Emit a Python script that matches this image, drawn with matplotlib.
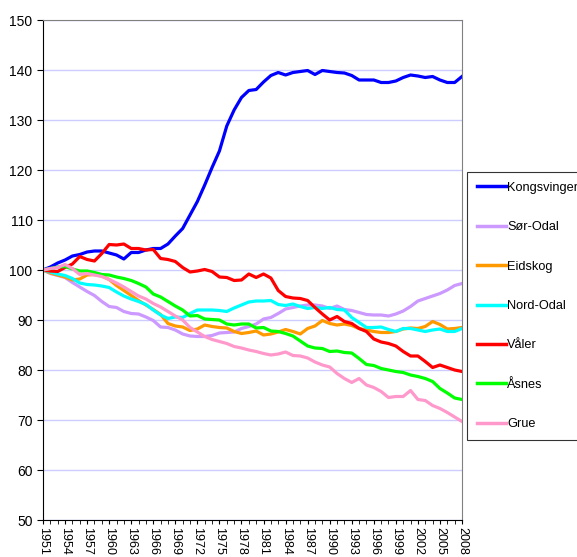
import matplotlib
matplotlib.use("Agg")
import matplotlib.pyplot as plt

years = list(range(1951, 2009))

kongsvinger = [100, 100.6, 101.4, 102, 102.8, 103.1, 103.6, 103.8, 103.8, 103.4,
               103, 102.2, 103.5, 103.5, 104, 104.3, 104.3, 105.2, 106.8, 108.3,
               111, 113.7, 117, 120.5, 123.8, 128.8, 132, 134.5, 135.9, 136.1,
               137.6, 138.9, 139.5, 139, 139.5, 139.7, 139.9, 139.1, 139.9, 139.7,
               139.5, 139.4, 138.9, 138, 138, 138, 137.5, 137.5, 137.8, 138.5,
               139, 138.8, 138.5, 138.7, 138, 137.5, 137.5, 138.7]
sor_odal = [100, 99.3, 98.9, 98.5, 97.5, 96.6, 95.7, 94.9, 93.7, 92.7,
            92.5, 91.7, 91.3, 91.2, 90.6, 89.9, 88.6, 88.5, 88, 87.2,
            86.8, 86.7, 86.7, 86.9, 87.4, 87.5, 87.6, 88.3, 88.7, 89.2,
            90.2, 90.5, 91.3, 92.2, 92.5, 92.8, 93, 93, 92.8, 92.3,
            92.8, 92.1, 91.9, 91.5, 91.1, 91, 91, 90.8, 91.2, 91.8,
            92.7, 93.8, 94.3, 94.8, 95.3, 96, 96.9, 97.3]
eidskog = [100, 99.4, 99, 98.6, 98, 98.2, 99, 99.1, 98.8, 98.1,
           96.9, 95.9, 94.9, 93.9, 93, 92.1, 91.1, 89.3, 88.8, 88.6,
           87.9, 88.2, 89, 88.7, 88.5, 88.4, 87.7, 87.3, 87.5, 87.8,
           87, 87.2, 87.6, 88.1, 87.7, 87.2, 88.3, 88.8, 89.9, 89.3,
           89, 89.2, 88.9, 88.3, 88, 87.7, 87.5, 87.5, 87.7, 88.2,
           88.4, 88.3, 88.7, 89.7, 89.1, 88.2, 88.3, 88.5]
nord_odal = [100, 99.6, 99.2, 98.9, 98.3, 97.4, 97.1, 97, 96.8, 96.5,
             95.6, 94.8, 94.2, 93.7, 93.1, 92, 91, 90.3, 90.6, 90.5,
             91.3, 92, 92, 92, 91.9, 91.7, 92.4, 93, 93.6, 93.8,
             93.8, 93.9, 93.1, 92.9, 93.2, 92.7, 92.3, 92.5, 92.3, 92.5,
             92.1, 92, 90.5, 89.5, 88.5, 88.5, 88.6, 88.1, 87.7, 88.3,
             88.3, 88, 87.7, 88, 88.2, 87.7, 87.7, 88.3]
valer = [100, 99.8, 99.7, 100.5, 101.2, 102.7, 102.1, 101.8, 103.3, 105.1,
         105, 105.2, 104.3, 104.3, 104, 104.1, 102.3, 102.1, 101.7, 100.5,
         99.6, 99.8, 100.1, 99.7, 98.6, 98.5, 97.9, 98, 99.2, 98.5,
         99.2, 98.4, 95.9, 94.7, 94.4, 94.3, 93.9, 92.5, 91.2, 90,
         90.7, 89.7, 89.3, 88.3, 87.7, 86.2, 85.6, 85.3, 84.8, 83.7,
         82.8, 82.8, 81.7, 80.5, 81, 80.5, 80, 79.7]
asnes = [100, 100.3, 100.6, 100.7, 100.2, 99.8, 99.8, 99.5, 99.1, 99,
         98.6, 98.3, 97.9, 97.3, 96.6, 95.2, 94.6, 93.7, 92.8, 92,
         90.8, 90.9, 90.2, 90.1, 90, 89.2, 89, 89.2, 89.2, 88.4,
         88.5, 87.8, 87.7, 87.3, 86.8, 85.8, 84.8, 84.4, 84.3, 83.7,
         83.8, 83.5, 83.4, 82.3, 81.1, 80.9, 80.3, 80, 79.7, 79.5,
         79, 78.7, 78.3, 77.7, 76.3, 75.4, 74.4, 74.1]
grue = [100, 100.3, 100.5, 101.1, 100.3, 99.1, 99.3, 99, 98.7, 98.1,
        97.4, 96.6, 95.7, 94.8, 94.2, 93.3, 92.6, 91.7, 90.8, 90,
        88.5, 87.6, 86.7, 86.1, 85.7, 85.3, 84.7, 84.4, 84, 83.7,
        83.3, 83, 83.2, 83.6, 82.9, 82.8, 82.4, 81.6, 81, 80.6,
        79.3, 78.3, 77.5, 78.3, 77, 76.5, 75.7, 74.5, 74.7, 74.7,
        75.9, 74.1, 73.9, 72.9, 72.3, 71.5, 70.6, 69.7]

series = [
    ("Kongsvinger", kongsvinger, "#0000FF"),
    ("Sør-Odal", sor_odal, "#CC99FF"),
    ("Eidskog", eidskog, "#FF9900"),
    ("Nord-Odal", nord_odal, "#00FFFF"),
    ("Våler", valer, "#FF0000"),
    ("Åsnes", asnes, "#00FF00"),
    ("Grue", grue, "#FF99CC"),
]

plt.rcParams["font.family"] = ["Liberation Sans", "DejaVu Sans"]

fig = plt.figure(figsize=(5.77, 5.57), dpi=100)
ax = fig.add_axes([43 / 577, 1 - 520 / 557, (462 - 43) / 577, 500 / 557])

for name, vals, col in series:
    ax.plot(years, vals, color=col, lw=2.3, label=name, solid_joinstyle="round")

ax.set_xlim(years[0], years[-1])
ax.set_ylim(50, 150)
ax.set_yticks(range(50, 151, 10))
ax.yaxis.grid(True, color="#CCCCFF", lw=1)
ax.set_axisbelow(True)
ax.set_xticks(years[::3])
ax.set_xticks(years, minor=True)
ax.set_xticklabels([str(y) for y in years[::3]], rotation=270, fontsize=9)
ax.tick_params(axis="x", which="both", length=3, direction="out", pad=2)
ax.tick_params(axis="y", length=4, direction="out", labelsize=10)
for s in ("top", "right"):
    ax.spines[s].set_color("#808080")
for s in ("left", "bottom"):
    ax.spines[s].set_color("black")

leg = fig.legend(loc="upper left", bbox_to_anchor=(467 / 577, 1 - 172 / 557),
                 fontsize=9.2, frameon=True, fancybox=False, edgecolor="black",
                 labelspacing=2.15, handlelength=2.3, handletextpad=0.1,
                 borderpad=0.75, borderaxespad=0)
leg.get_frame().set_linewidth(0.8)
for line in leg.get_lines():
    line.set_linewidth(2.5)

fig.savefig("out.png", dpi=100)
